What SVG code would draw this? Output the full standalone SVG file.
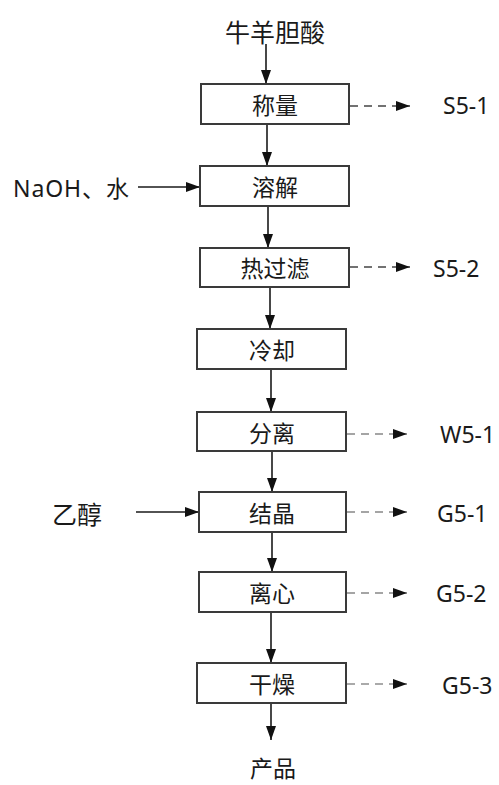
<svg xmlns="http://www.w3.org/2000/svg" width="499" height="785" viewBox="0 0 499 785">
<style>
.box{fill:#fff;stroke:#3a3a3a;stroke-width:2}
.t{font-family:"Noto Sans CJK SC","Noto Sans",sans-serif;font-size:23px;fill:#1a1a1a;text-anchor:middle;dominant-baseline:central}
.l{font-family:"Noto Sans","Noto Sans CJK SC",sans-serif;font-size:23px;fill:#1a1a1a;dominant-baseline:central}
.s{fill:none;stroke:#1a1a1a;stroke-width:1.6}
.d{fill:none;stroke:#444;stroke-width:1.6;stroke-dasharray:8 6}
.dg{fill:none;stroke:#888;stroke-width:1.6;stroke-dasharray:8 6}
.dl{fill:none;stroke:#aaa;stroke-width:2;stroke-dasharray:8 6}
</style>
<defs>
<marker id="ah" markerWidth="14" markerHeight="10" refX="14" refY="5" orient="auto" markerUnits="userSpaceOnUse">
<path d="M0,0 L14,5 L0,10 Z" fill="#111"/>
</marker>
</defs>
<rect width="499" height="785" fill="#fff"/>
<g id="connectors">
<line class="s" x1="266" y1="44" x2="266" y2="84" marker-end="url(#ah)"/>
<line class="s" x1="267" y1="124" x2="267" y2="166" marker-end="url(#ah)"/>
<line class="s" x1="268" y1="206" x2="268" y2="248" marker-end="url(#ah)"/>
<line class="s" x1="270" y1="287" x2="270" y2="329" marker-end="url(#ah)"/>
<line class="s" x1="271" y1="369" x2="271" y2="412" marker-end="url(#ah)"/>
<line class="s" x1="272" y1="451" x2="272" y2="492" marker-end="url(#ah)"/>
<line class="s" x1="272" y1="532" x2="272" y2="572" marker-end="url(#ah)"/>
<line class="s" x1="271" y1="612" x2="271" y2="663" marker-end="url(#ah)"/>
<line class="s" x1="271" y1="703" x2="271" y2="740" marker-end="url(#ah)"/>
<line class="s" x1="138" y1="187" x2="200" y2="187" marker-end="url(#ah)"/>
<line class="s" x1="136" y1="512" x2="199" y2="512" marker-end="url(#ah)"/>
<line class="d" x1="350" y1="106" x2="410" y2="106" marker-end="url(#ah)"/>
<line class="d" x1="350" y1="267" x2="410" y2="267" marker-end="url(#ah)"/>
<line class="dg" x1="347" y1="434" x2="407" y2="434" marker-end="url(#ah)"/>
<line class="dg" x1="347" y1="512" x2="407" y2="512" marker-end="url(#ah)"/>
<line class="dg" x1="347" y1="593" x2="407" y2="593" marker-end="url(#ah)"/>
<line class="dl" x1="347" y1="684" x2="407" y2="684" marker-end="url(#ah)"/>
</g>
<g id="n-start"><text class="t" x="275" y="31" style="font-size:25px">牛羊胆酸</text></g>
<g id="n-weigh"><rect class="box" x="201" y="84" width="148" height="40"/><text class="t" x="275" y="104">称量</text></g>
<g id="n-dissolve"><rect class="box" x="200" y="166" width="149" height="40"/><text class="t" x="275" y="186">溶解</text></g>
<g id="n-filter"><rect class="box" x="200" y="248" width="149" height="39"/><text class="t" x="275" y="267">热过滤</text></g>
<g id="n-cool"><rect class="box" x="197" y="329" width="149" height="40"/><text class="t" x="272" y="349">冷却</text></g>
<g id="n-sep"><rect class="box" x="197" y="412" width="149" height="39"/><text class="t" x="272" y="432">分离</text></g>
<g id="n-cryst"><rect class="box" x="199" y="492" width="147" height="40"/><text class="t" x="272" y="512">结晶</text></g>
<g id="n-cent"><rect class="box" x="199" y="572" width="147" height="40"/><text class="t" x="272" y="592">离心</text></g>
<g id="n-dry"><rect class="box" x="197" y="663" width="149" height="40"/><text class="t" x="272" y="683">干燥</text></g>
<g id="n-product"><text class="t" x="273" y="767">产品</text></g>
<g id="n-naoh"><text class="l" x="13" y="188" textLength="116" lengthAdjust="spacing">NaOH、水</text></g>
<g id="n-ethanol"><text class="t" x="77" y="513" style="font-size:25px">乙醇</text></g>
<g id="o-s51"><text class="l" x="443" y="105">S5-1</text></g>
<g id="o-s52"><text class="l" x="433" y="268">S5-2</text></g>
<g id="o-w51"><text class="l" x="440" y="434">W5-1</text></g>
<g id="o-g51"><text class="l" x="437" y="513">G5-1</text></g>
<g id="o-g52"><text class="l" x="436" y="593">G5-2</text></g>
<g id="o-g53"><text class="l" x="442" y="685">G5-3</text></g>
</svg>
